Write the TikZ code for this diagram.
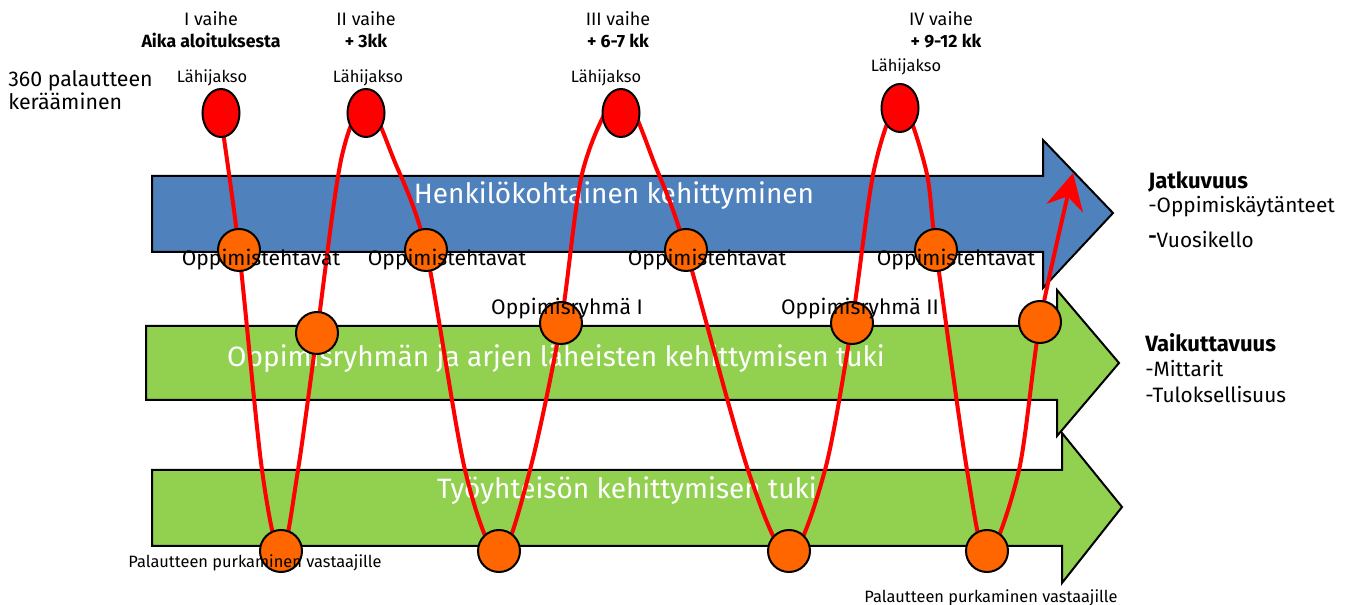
\documentclass[tikz,border=0pt]{standalone}
\usepackage{fontspec}
\setmainfont{Fira Sans}
\usetikzlibrary{arrows.meta,shapes.geometric}
\definecolor{blueA}{HTML}{4F81BD}
\definecolor{greenA}{HTML}{92D050}
\definecolor{orangeA}{HTML}{FF6600}
\definecolor{redA}{HTML}{FF0000}
\tikzset{
  bandarrow/.style={draw=black, line width=1.5pt, line join=miter},
  bandtext/.style={text=white, font=\fontsize{21}{23}\selectfont, inner sep=0pt, anchor=base},
  lab/.style={font=\fontsize{15.8}{17}\selectfont, inner sep=0pt, anchor=base},
  smalllab/.style={font=\fontsize{12.3}{14}\selectfont, inner sep=0pt, anchor=base},
  toplab/.style={font=\fontsize{13.5}{15}\selectfont, inner sep=0pt, anchor=base},
  topbold/.style={font=\fontsize{13.3}{15}\selectfont\bfseries, inner sep=0pt, anchor=base},
  sidelab/.style={font=\fontsize{15.6}{17}\selectfont, inner sep=0pt, anchor=base west},
  sidebold/.style={font=\fontsize{16.6}{18}\selectfont\bfseries, inner sep=0pt, anchor=base west},
  redell/.style={ellipse, draw=black, line width=1.5pt, fill=redA, minimum width=27.75pt, minimum height=36pt, inner sep=0pt},
  orng/.style={circle, draw=black, line width=1.5pt, fill=orangeA, minimum size=31.5pt, inner sep=0pt},
  wave/.style={draw=redA, line width=3pt, -{Stealth[length=27pt, width=28pt, inset=9pt]}}
}
\begin{document}
\begin{tikzpicture}[x=0.75pt,y=-0.75pt]
\useasboundingbox (0,0) rectangle (1347,605);
% band arrows
\draw[bandarrow, fill=greenA] (152,470) -- (1062,470) -- (1062,433) -- (1122,507) -- (1062,583) -- (1062,546) -- (152,546) -- cycle;
\draw[bandarrow, fill=greenA] (146,326) -- (1057,326) -- (1057,290) -- (1119,363) -- (1057,436) -- (1057,400) -- (146,400) -- cycle;
\draw[bandarrow, fill=blueA] (152,176) -- (1043,176) -- (1043,140) -- (1113,213) -- (1043,288) -- (1043,252) -- (152,252) -- cycle;
\node[bandtext] (t1) at (614,204) {Henkilökohtainen kehittyminen};
\node[bandtext] (t2) at (556,367) {Oppimisryhmän ja arjen läheisten kehittymisen tuki};
\node[bandtext] (t3) at (627,499) {Työyhteisön kehittymisen tuki};
% node positions
\coordinate (e1) at (221,113);
\coordinate (e2) at (366,113);
\coordinate (e3) at (621,113);
\coordinate (e4) at (900,108);
\coordinate (a1) at (239,250);
\coordinate (a2) at (426,250);
\coordinate (a3) at (686,250);
\coordinate (a4) at (936,250);
\coordinate (b1) at (317,333);
\coordinate (b2) at (561,323);
\coordinate (b3) at (852,323);
\coordinate (b4) at (1040,322);
\coordinate (c1) at (281,551);
\coordinate (c2) at (499,551);
\coordinate (c3) at (789,551);
\coordinate (c4) at (987,551);
\coordinate (tip) at (1073,173);
% wave
\draw[wave] plot[smooth, tension=0.5] coordinates {
  (221,118) (a1) (262,470) (281,556) (298,470) (b1)
  (341,160) (366,103) (394,160) (a2)
  (465,470) (499,556) (530,470) (b2)
  (583,170) (621,95) (657,170) (a3)
  (748,470) (789,556) (825,470) (b3)
  (874,170) (900,102) (926,170) (a4)
  (967,470) (987,556) (1019,470) (b4)
  (tip)};
% ellipses and circles
\node[redell] (E1) at (e1) {};
\node[redell] (E2) at (e2) {};
\node[redell] (E3) at (e3) {};
\node[redell] (E4) at (e4) {};
\foreach \n in {a1,a2,a3,a4,b1,b2,b3,b4,c1,c2,c3,c4}{\node[orng] (O\n) at (\n) {};}
% labels
\node[toplab] (v1) at (211,26) {I vaihe};
\node[topbold] (v1b) at (211,48) {Aika aloituksesta};
\node[toplab] (v2) at (366,26) {II vaihe};
\node[topbold] (v2b) at (366,48) {+ 3kk};
\node[toplab] (v3) at (618,26) {III vaihe};
\node[topbold] (v3b) at (618,48) {+ 6-7 kk};
\node[toplab] (v4) at (941,26) {IV vaihe};
\node[topbold] (v4b) at (946,48) {+ 9-12 kk};
\node[smalllab] (l1) at (212,83) {Lähijakso};
\node[smalllab] (l2) at (368,83) {Lähijakso};
\node[smalllab] (l3) at (606,83) {Lähijakso};
\node[smalllab] (l4) at (906,72) {Lähijakso};
\node[font=\fontsize{16}{17.3}\selectfont, align=left, anchor=base west, inner sep=0pt] (fb) at (8,110) {360 palautteen\\kerääminen};
\node[lab] (ot1) at (261,266) {Oppimistehtavat};
\node[lab] (ot2) at (447,266) {Oppimistehtavat};
\node[lab] (ot3) at (707,266) {Oppimistehtavat};
\node[lab] (ot4) at (956,266) {Oppimistehtavat};
\node[lab] (or1) at (567,315) {Oppimisryhmä I};
\node[lab] (or2) at (860,315) {Oppimisryhmä II};
\node[smalllab] (p1) at (255,568) {Palautteen purkaminen vastaajille};
\node[smalllab] (p2) at (991,603) {Palautteen purkaminen vastaajille};
\node[sidebold] (j1) at (1148,189) {Jatkuvuus};
\node[sidelab] (j2) at (1148,213) {-Oppimiskäytänteet};
\node[sidelab] (j3) at (1148,248) {\raisebox{3pt}{\bfseries -}Vuosikello};
\node[sidebold] (k1) at (1145,352) {Vaikuttavuus};
\node[sidelab] (k2) at (1145,377) {-Mittarit};
\node[sidelab] (k3) at (1145,403) {-Tuloksellisuus};
\end{tikzpicture}
\end{document}
